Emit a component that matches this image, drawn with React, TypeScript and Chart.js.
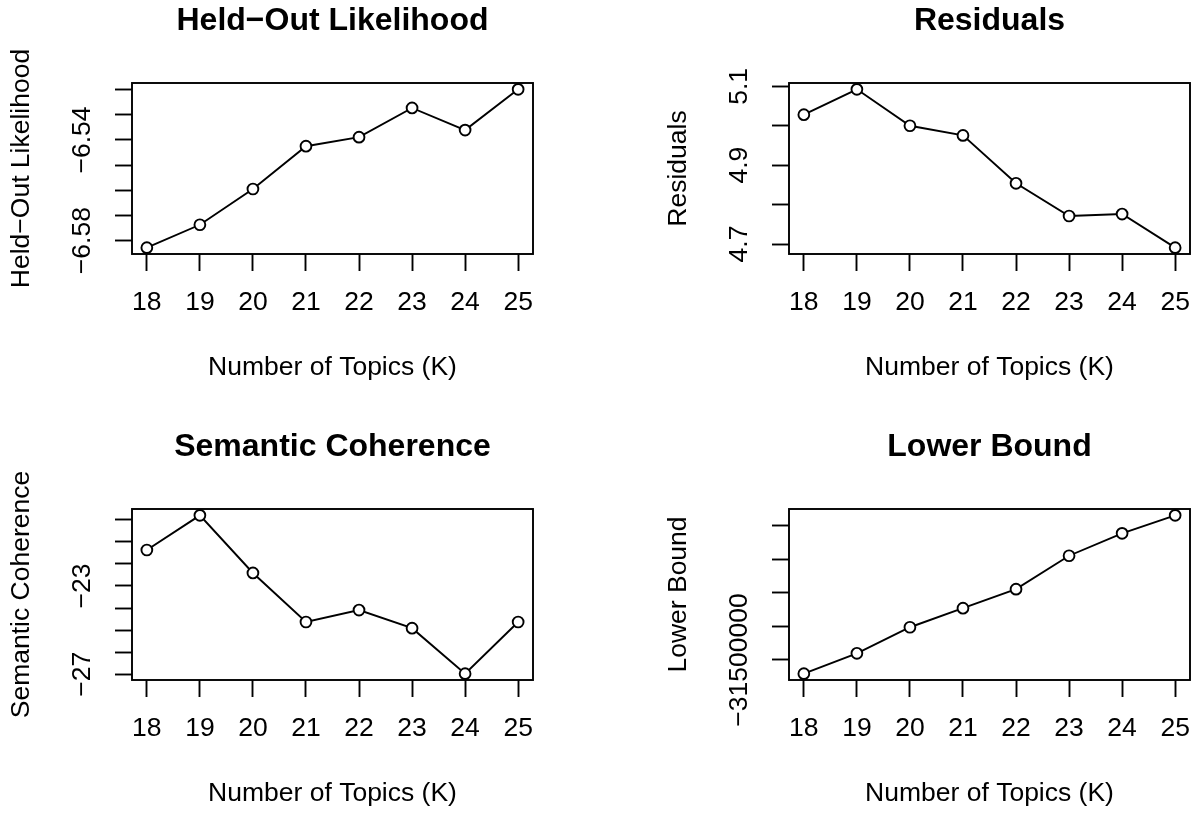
import React, { useEffect, useRef } from "react";
import { Chart, registerables } from "chart.js";

Chart.register(...registerables);

// ---------- data ----------
const topics = [18, 19, 20, 21, 22, 23, 24, 25];

const heldOut = [-6.5828, -6.5737, -6.5595, -6.5425, -6.5389, -6.5273, -6.5361, -6.5199];
const residuals = [5.028, 5.0924, 5.0, 4.9755, 4.854, 4.771, 4.776, 4.6907];
const semanticCoherence = [-21.37, -19.8, -22.41, -24.63, -24.09, -24.91, -26.97, -24.63];
const lowerBound = [-31540900, -31480100, -31402300, -31345500, -31288600, -31188900, -31122100, -31068300];

const heldOutTicks = [-6.58, -6.57, -6.56, -6.55, -6.54, -6.53, -6.52];
const heldOutTickLabels = [-6.58, -6.54];
const residualTicks = [4.7, 4.8, 4.9, 5.0, 5.1];
const residualTickLabels = [4.7, 4.9, 5.1];
const semanticTicks = [-27, -26, -25, -24, -23, -22, -21, -20];
const semanticTickLabels = [-27, -23];
const lowerBoundTicks = [-31500000, -31400000, -31300000, -31200000, -31100000];
const lowerBoundTickLabels = [-31500000];

// ---------- style ----------
const FONT = "'Liberation Sans', Arial, Helvetica, sans-serif";
const FS = 26.5;
const TITLE_FS = 32;
const LW = 1.9;
const TICK_LEN = 17;
const CANVAS_W = 545;
const CANVAS_H = 388;
const AREA_LEFT = 132;
const AREA_TOP = 83;
const AREA_BOTTOM = 254;
const RIGHT_PAD = 12;
const YLABEL_OFF = 49; // distance from box to y tick label centre
const YTITLE_CENTER = 22;
const XLABEL_CENTER = 303 - AREA_BOTTOM;
const XTITLE_CENTER = 368;
const TITLE_CENTER = 21;

Chart.defaults.font.family = FONT;
Chart.defaults.color = "#000";

const boxPlugin = {
  id: "rbox",
  afterDraw(chart: any) {
    const { ctx, chartArea: a } = chart;
    ctx.save();
    ctx.strokeStyle = "#000";
    ctx.lineWidth = LW;
    ctx.strokeRect(a.left, a.top, a.right - a.left, a.bottom - a.top);
    ctx.restore();
  },
};

type PanelProps = {
  title: string;
  ylabel: string;
  values: number[];
  yTicks: number[];
  yLabels: number[];
  decimals: number;
  left: number;
  top: number;
};

function Panel({ title, ylabel, values, yTicks, yLabels, decimals, left, top }: PanelProps) {
  const ref = useRef<HTMLCanvasElement>(null);
  useEffect(() => {
    const canvas = ref.current!;
    const lo = Math.min(...values);
    const hi = Math.max(...values);
    const pad = (hi - lo) * 0.04;
    const xlo = Math.min(...topics);
    const xhi = Math.max(...topics);
    const xpad = (xhi - xlo) * 0.04;
    const fmt = (v: number) => v.toFixed(decimals).replace("-", "\u2212");

    const mctx = canvas.getContext("2d")!;
    mctx.font = `${FS}px ${FONT}`;
    const widest = Math.max(...yLabels.map((v) => mctx.measureText(fmt(v)).width));
    const yTickPad = YLABEL_OFF - TICK_LEN - widest / 2;
    const lh = FS * 1.2;
    const tlh = TITLE_FS * 1.2;
    const titlePadTop = TITLE_CENTER - tlh / 2;
    const titlePadBottom = AREA_TOP - titlePadTop - tlh;
    const xAxisH = CANVAS_H - AREA_BOTTOM;

    const zeroPad = (s: any) => {
      s.paddingLeft = 0;
      s.paddingRight = 0;
      s.paddingTop = 0;
      s.paddingBottom = 0;
    };

    const chart = new Chart(canvas, {
      type: "line",
      data: {
        datasets: [
          {
            data: topics.map((k, i) => ({ x: k, y: values[i] })),
            borderColor: "#000",
            borderWidth: LW,
            pointRadius: 5.4,
            pointBorderWidth: LW,
            pointBackgroundColor: "#fff",
            pointBorderColor: "#000",
            pointStyle: "circle",
            tension: 0,
            fill: false,
            clip: false as any,
          },
        ],
      },
      options: {
        animation: false,
        responsive: false,
        devicePixelRatio: 1,
        events: [],
        layout: { padding: { left: 0, top: 0, right: RIGHT_PAD, bottom: 0 } },
        plugins: {
          legend: { display: false },
          tooltip: { enabled: false },
          title: {
            display: true,
            text: title,
            fullSize: false,
            color: "#000",
            font: { size: TITLE_FS, weight: "bold", family: FONT, lineHeight: 1.2 },
            padding: { top: titlePadTop, bottom: titlePadBottom },
          },
        },
        scales: {
          x: {
            type: "linear",
            min: xlo - xpad,
            max: xhi + xpad,
            afterBuildTicks: (s: any) => {
              s.ticks = topics.map((v) => ({ value: v }));
            },
            afterFit: (s: any) => {
              s.height = xAxisH;
              zeroPad(s);
            },
            grid: {
              display: true,
              drawOnChartArea: false,
              drawTicks: true,
              tickLength: TICK_LEN,
              tickWidth: LW,
              tickColor: "#000",
              color: "#000",
            },
            border: { display: false },
            ticks: {
              autoSkip: false,
              minRotation: 0,
              maxRotation: 0,
              padding: XLABEL_CENTER - TICK_LEN - lh / 2,
              color: "#000",
              font: { size: FS, family: FONT, lineHeight: 1.2 },
              callback: (v: any) => String(v),
            },
            title: {
              display: true,
              text: "Number of Topics (K)",
              color: "#000",
              font: { size: FS, family: FONT, lineHeight: 1.2 },
              padding: { top: 0, bottom: CANVAS_H - XTITLE_CENTER - lh / 2 },
            },
          },
          y: {
            type: "linear",
            min: lo - pad,
            max: hi + pad,
            afterBuildTicks: (s: any) => {
              s.ticks = yTicks.map((v) => ({ value: v }));
            },
            afterFit: (s: any) => {
              s.width = AREA_LEFT;
              zeroPad(s);
            },
            grid: {
              display: true,
              drawOnChartArea: false,
              drawTicks: true,
              tickLength: TICK_LEN,
              tickWidth: LW,
              tickColor: "#000",
              color: "#000",
            },
            border: { display: false },
            ticks: {
              autoSkip: false,
              minRotation: 90,
              maxRotation: 90,
              crossAlign: "center",
              padding: yTickPad,
              color: "#000",
              font: { size: FS, family: FONT, lineHeight: 1.2 },
              callback: (v: any) => (yLabels.includes(v) ? fmt(v) : ""),
            },
            title: {
              display: true,
              text: ylabel,
              color: "#000",
              font: { size: FS, family: FONT, lineHeight: 1.2 },
              padding: { top: YTITLE_CENTER - lh / 2, bottom: 0 },
            },
          },
        },
      } as any,
      plugins: [boxPlugin],
    });
    return () => chart.destroy();
  }, []);
  return (
    <canvas
      ref={ref}
      width={CANVAS_W}
      height={CANVAS_H}
      style={{ position: "absolute", left, top, width: CANVAS_W, height: CANVAS_H }}
    />
  );
}

export default function App() {
  const colX = [0, 657];
  const rowY = [0, 426];
  return (
    <div
      style={{
        position: "absolute",
        left: 0,
        top: 0,
        width: 1202,
        height: 814,
        overflow: "hidden",
        background: "#fff",
      }}
    >
      <Panel
        title={"Held\u2212Out Likelihood"}
        ylabel={"Held\u2212Out Likelihood"}
        values={heldOut}
        yTicks={heldOutTicks}
        yLabels={heldOutTickLabels}
        decimals={2}
        left={colX[0]}
        top={rowY[0]}
      />
      <Panel
        title="Residuals"
        ylabel="Residuals"
        values={residuals}
        yTicks={residualTicks}
        yLabels={residualTickLabels}
        decimals={1}
        left={colX[1]}
        top={rowY[0]}
      />
      <Panel
        title="Semantic Coherence"
        ylabel="Semantic Coherence"
        values={semanticCoherence}
        yTicks={semanticTicks}
        yLabels={semanticTickLabels}
        decimals={0}
        left={colX[0]}
        top={rowY[1]}
      />
      <Panel
        title="Lower Bound"
        ylabel="Lower Bound"
        values={lowerBound}
        yTicks={lowerBoundTicks}
        yLabels={lowerBoundTickLabels}
        decimals={0}
        left={colX[1]}
        top={rowY[1]}
      />
    </div>
  );
}
